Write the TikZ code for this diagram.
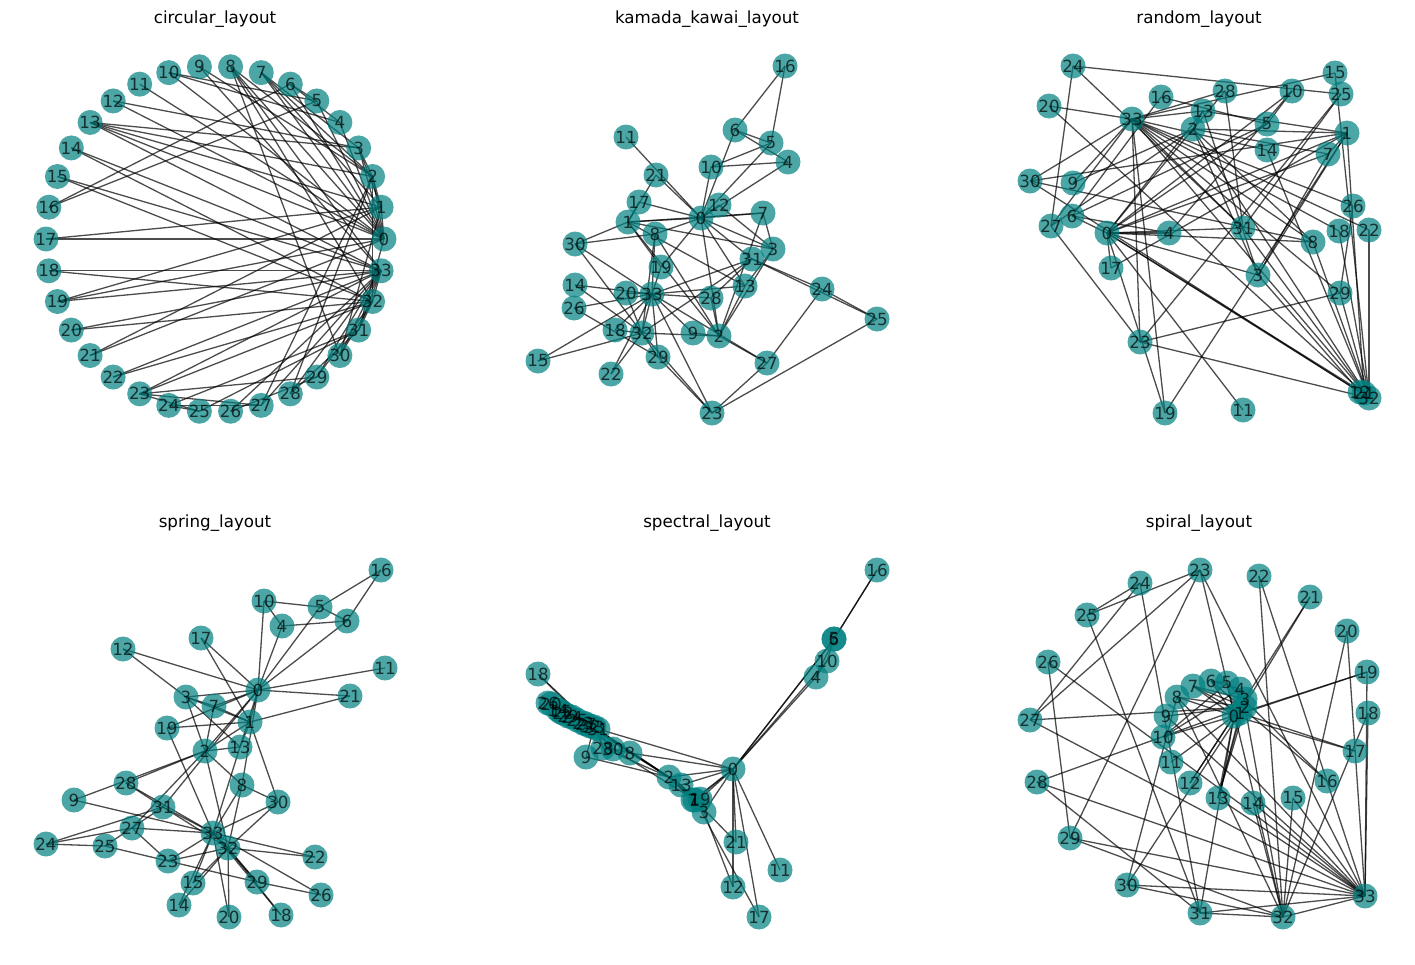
\documentclass[tikz,border=0pt]{standalone}
\usepackage{fontspec}
\setmainfont{DejaVu Sans}
\pgfdeclarelayer{background}
\pgfsetlayers{background,main}
\tikzset{
  vert/.style={circle, fill=teal, fill opacity=0.7, draw=none, minimum size=25pt, inner sep=0pt},
  lab/.style={text=black, text opacity=0.7, inner sep=0pt, font=\fontsize{16.7}{20}\selectfont},
  edge/.style={draw=black, draw opacity=0.7, line width=1.3pt},
  ttl/.style={anchor=base, text=black, font=\fontsize{16.7}{20}\selectfont}
}
\def\edgelist{0/1,0/2,0/3,0/4,0/5,0/6,0/7,0/8,0/10,0/11,0/12,0/13,0/17,0/19,0/21,0/31,
1/2,1/3,1/7,1/13,1/17,1/19,1/21,1/30,
2/3,2/7,2/8,2/9,2/13,2/27,2/28,2/32,
3/7,3/12,3/13,4/6,4/10,5/6,5/10,5/16,6/16,8/30,8/32,8/33,
9/33,13/33,14/32,14/33,15/32,15/33,18/32,18/33,19/33,20/32,20/33,22/32,22/33,
23/25,23/27,23/29,23/32,23/33,24/25,24/27,24/31,
25/31,26/29,26/33,27/33,28/31,28/33,29/32,29/33,30/32,30/33,31/32,31/33,32/33}
\newcommand{\panelrest}[1]{%
  \begin{pgfonlayer}{background}
    \foreach \u/\v in \edgelist {\draw[edge] (#1\u.center) -- (#1\v.center);}
  \end{pgfonlayer}
  \foreach \k in {0,...,33} {\node[lab] (#1l\k) at (#1\k) {\k};}
}
\begin{document}
\begin{tikzpicture}[x=1pt,y=-1pt]
\useasboundingbox (0,0) rectangle (1415,964);
% titles
\node[ttl] (t1) at (215,23) {circular\_layout};
\node[ttl] (t2) at (707,23) {kamada\_kawai\_layout};
\node[ttl] (t3) at (1199,23) {random\_layout};
\node[ttl] (t4) at (215,527) {spring\_layout};
\node[ttl] (t5) at (707,527) {spectral\_layout};
\node[ttl] (t6) at (1199,527) {spiral\_layout};
% circular
\foreach \k in {0,...,33} {\node[vert] (a\k) at ({215+169*cos(360*\k/34)},{239-173*sin(360*\k/34)}) {};}
\panelrest{a}
% kamada kawai
\foreach \k/\x/\y in {16/785/66,6/735/130,5/771/143,4/788/162,11/626/137,10/711/167,21/656/175,17/639/202,
12/719/205,0/701/218,7/763/213,1/628/222,8/655/234,30/575/244,3/773/249,31/752/259,19/661/267,14/575/285,
13/745/286,24/822/289,20/626/293,33/652/294,28/711/298,26/574/308,25/877/319,18/615/330,32/642/333,
9/693/333,2/719/336,29/658/357,27/767/363,15/538/361,22/611/374,23/712/413}
  {\node[vert] (b\k) at (\x,\y) {};}
\panelrest{b}
% random
\foreach \k/\x/\y in {24/1073/66,15/1335/73,28/1225/91,10/1292/91,25/1341/94,20/1049/106,16/1161/97,
33/1132/119,13/1203/111,2/1193/129,5/1267/124,1/1347/133,14/1267/150,7/1328/154,30/1030/181,9/1073/183,
26/1353/206,6/1072/216,27/1051/226,0/1107/233,4/1169/233,31/1243/228,18/1339/231,22/1369/230,8/1313/242,
17/1111/268,3/1258/275,29/1340/293,23/1140/342,12/1360/392,21/1364/393,32/1369/398,19/1165/413,11/1243/410}
  {\node[vert] (c\k) at (\x,\y) {};}
\panelrest{c}
% spring
\foreach \k/\x/\y in {16/381/570,10/264/601,5/320/607,4/282/626,6/347/621,17/201/638,12/123/649,11/385/668,
0/258/690,21/350/696,3/186/697,7/214/706,1/250/722,19/167/728,13/240/747,2/205/751,8/242/785,28/126/783,
30/278/802,9/74/800,31/163/807,27/132/828,33/213/833,24/46/844,25/105/846,32/228/848,22/315/857,23/168/861,
15/193/883,29/257/882,26/321/895,14/179/905,20/229/917,18/281/915}
  {\node[vert] (d\k) at (\x,\y) {};}
\panelrest{d}
% spectral
\foreach \k/\x/\y in {16/877/570,5/834/639,6/834/639,10/827/661,4/816/677,18/538/674,0/733/769,9/586/757,
8/630/753,2/669/777,13/681/785,1/695/800,7/693/800,19/700/799,3/704/812,21/736/842,11/780/870,12/733/887,
17/759/917,28/603/748,30/613/749,26/548/703,20/551/704,14/558/710,15/561/712,22/563/713,29/568/716,
24/572/717,25/577/720,23/583/723,27/586/724,32/590/726,33/594/727,31/598/729}
  {\node[vert] (e\k) at (\x,\y) {};}
\panelrest{e}
% spiral
\foreach \k/\x/\y in {23/1200/570,22/1259/576,24/1140/583,21/1310/597,25/1087/615,20/1347/631,26/1048/662,
19/1367/672,6/1211/681,5/1227/683,7/1193/686,4/1240/689,3/1245/699,8/1177/697,2/1245/707,1/1240/713,
0/1234/716,18/1368/713,9/1166/716,27/1030/720,10/1163/737,17/1355/751,11/1171/762,16/1327/781,28/1037/782,
12/1190/783,13/1218/798,15/1293/798,14/1253/803,29/1070/838,30/1127/885,33/1365/896,31/1200/913,32/1283/917}
  {\node[vert] (f\k) at (\x,\y) {};}
\panelrest{f}
\end{tikzpicture}
\end{document}
